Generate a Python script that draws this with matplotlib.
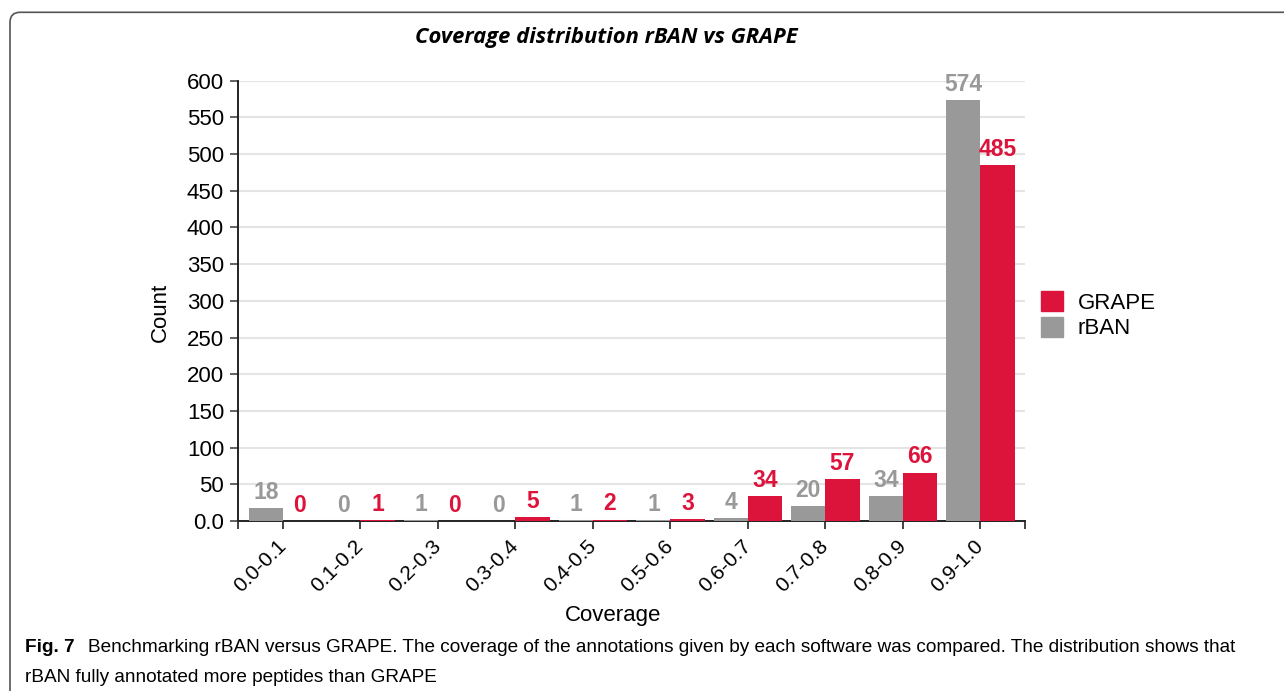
## importing the required packages
import numpy as np
import matplotlib
matplotlib.use('Agg')
import matplotlib.pyplot as plt
import matplotlib.transforms as mtransforms
from matplotlib.patches import FancyBboxPatch, Patch

## data
categories = ['0.0-0.1', '0.1-0.2', '0.2-0.3', '0.3-0.4', '0.4-0.5',
              '0.5-0.6', '0.6-0.7', '0.7-0.8', '0.8-0.9', '0.9-1.0']
rban = [18, 0, 1, 0, 1, 1, 4, 20, 34, 574]
grape = [0, 1, 0, 5, 2, 3, 34, 57, 66, 485]
yticks = list(range(0, 601, 50))
ytick_labels = ['0.0'] + [str(v) for v in yticks[1:]]

grey = '#999999'
red = '#dc143c'

plt.rcParams['font.family'] = ['Liberation Sans', 'DejaVu Sans']

W, H = 1284, 691
fig = plt.figure(figsize=(W / 100, H / 100), dpi=100)
ax = fig.add_axes([238 / W, 1 - 521 / H, (1025 - 238) / W, (521 - 80.7) / H])

## bars
x = np.arange(len(categories))
bw = 0.44
b1 = ax.bar(x - bw / 2, rban, bw, color=grey, zorder=3)
b2 = ax.bar(x + bw / 2, grape, bw, color=red, zorder=3)
for bars, vals, col in [(b1, rban, grey), (b2, grape, red)]:
    for b, v in zip(bars, vals):
        ax.annotate(str(v), (b.get_x() + b.get_width() / 2, v),
                    xytext=(0, 3), textcoords='offset points',
                    ha='center', va='bottom', color=col,
                    fontsize=16.5, fontweight='bold', zorder=4)

## axes styling
ax.set_xlim(-0.58, len(categories) - 1 + 0.575)
ax.set_ylim(0, 600)
ax.set_yticks(yticks)
ax.set_yticklabels(ytick_labels, fontsize=16)
ax.set_xticks(x)
ax.set_xticklabels(categories, fontsize=15, rotation=45, ha='right',
                   va='center', rotation_mode='anchor')
## nudge the rotated labels a little left / down
shift = mtransforms.ScaledTranslation(-0.06, -0.03, fig.dpi_scale_trans)
for lab in ax.get_xticklabels():
    lab.set_transform(lab.get_transform() + shift)
ax.set_xticks([ax.get_xlim()[0], ax.get_xlim()[1]], minor=True)
ax.tick_params(axis='x', which='both', length=6, width=1.3, color='#333333', pad=10)
ax.tick_params(axis='y', length=6, width=1.3, color='#555555', pad=4)
for s in ['top', 'right']:
    ax.spines[s].set_visible(False)
for s in ['left', 'bottom']:
    ax.spines[s].set_linewidth(1.4)
    ax.spines[s].set_color('#222222')
ax.yaxis.grid(True, color='#e4e4e4', linewidth=1.5, zorder=0)
ax.set_axisbelow(True)

fig.text(160.5 / W, 1 - 312 / H, 'Count', rotation=90, ha='center', va='center', fontsize=16)
fig.text(613 / W, 1 - 615 / H, 'Coverage', ha='center', va='center', fontsize=16)
fig.text(606 / W, 1 - 38 / H, 'Coverage distribution rBAN vs GRAPE', ha='center', va='center',
         fontsize=15.8, fontweight='bold', style='italic', family=['Open Sans', 'DejaVu Sans'])

## legend
handles = [Patch(color=red, label='GRAPE'), Patch(color=grey, label='rBAN')]
fig.legend(handles=handles, loc='upper left', bbox_to_anchor=(1041 / W, 1 - 291 / H),
           frameon=False, fontsize=16, handlelength=1.0, handleheight=1.0,
           handletextpad=0.65, labelspacing=0.15, borderpad=0, borderaxespad=0)

## caption and border
cap_font = dict(fontsize=13.65, family=['Liberation Sans', 'DejaVu Sans'])
fig.text(25 / W, 1 - 648 / H, 'Fig. 7', ha='left', va='center', fontweight='bold', **cap_font)
fig.text(88 / W, 1 - 648 / H, 'Benchmarking rBAN versus GRAPE. The coverage of the annotations given by each '
         'software was compared. The distribution shows that', ha='left', va='center', **cap_font)
fig.text(25 / W, 1 - 677 / H, 'rBAN fully annotated more peptides than GRAPE', ha='left', va='center',
         **cap_font)
fig.patches.append(FancyBboxPatch((0.10, -0.5), 14, 6.787 + 0.5,
                                  boxstyle='round,pad=0,rounding_size=0.1',
                                  transform=fig.dpi_scale_trans, fill=False,
                                  edgecolor='#555555', linewidth=1.2))

fig.savefig('out.png', dpi=100)
